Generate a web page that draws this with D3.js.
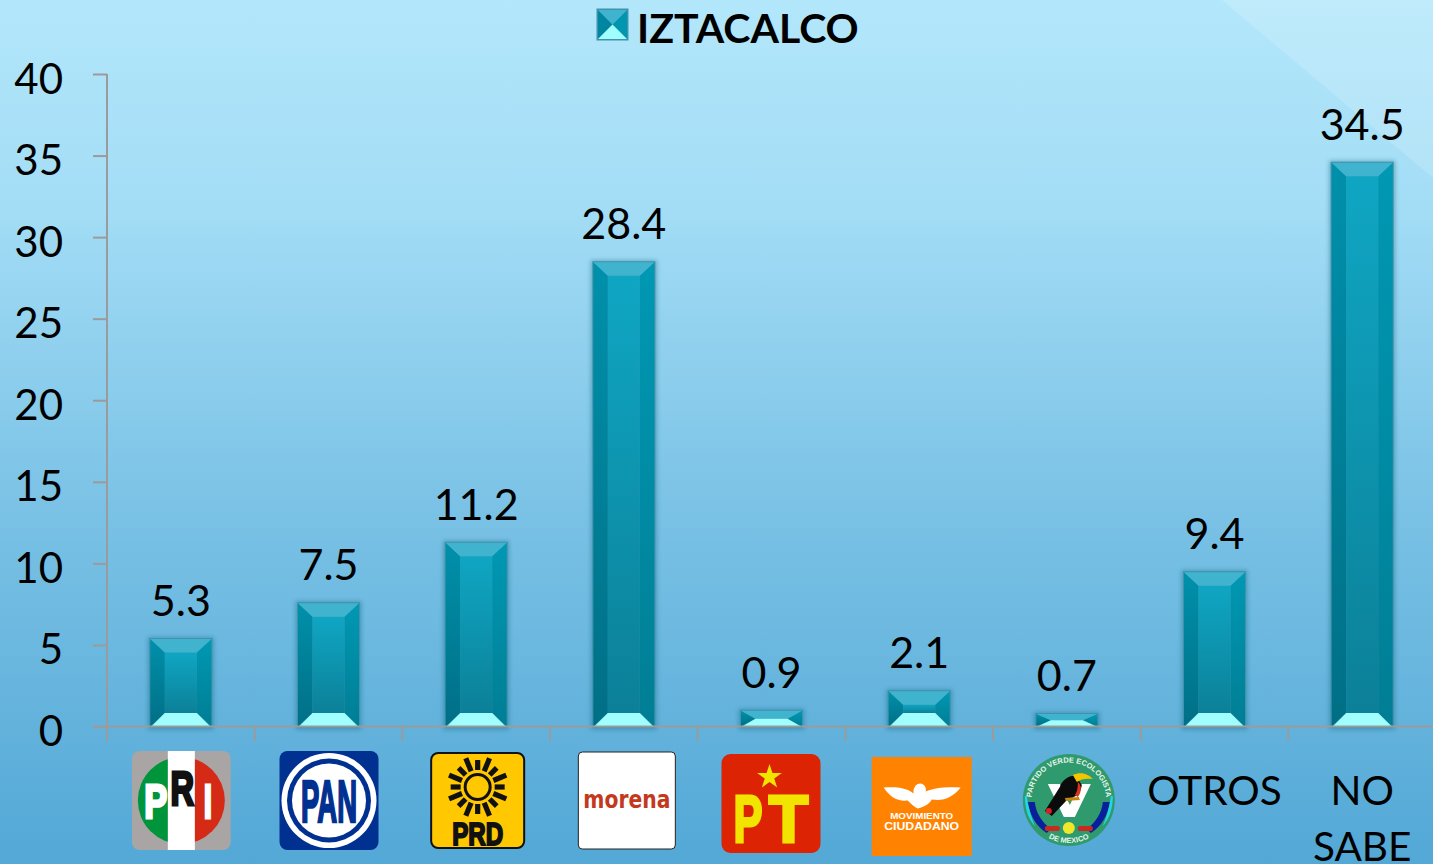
<!DOCTYPE html>
<html><head><meta charset="utf-8">
<script src="https://cdn.jsdelivr.net/npm/d3@7"></script>
<style>html,body{margin:0;padding:0;overflow:hidden}svg{display:block}</style>
</head><body><svg id="c" width="1433" height="864"></svg>
<script>
const chartTitle = "IZTACALCO";
const categories = ["PRI","PAN","PRD","morena","PT","MC","PVEM","OTROS","NO SABE"];
const values = [5.3,7.5,11.2,28.4,0.9,2.1,0.7,9.4,34.5];
const valueLabels = ["5.3","7.5","11.2","28.4","0.9","2.1","0.7","9.4","34.5"];
const yTicks = [0,5,10,15,20,25,30,35,40];
const FONT = "Lato, Carlito, sans-serif";

const svg = d3.select("#c");
const defs = svg.append("defs");
function grad(id, stops){
  const g = defs.append("linearGradient").attr("id",id).attr("x1",0).attr("y1",0).attr("x2",0).attr("y2",1);
  stops.forEach(s=>g.append("stop").attr("offset",s[0]).attr("stop-color",s[1]));
}
grad("bg",[[0,"#b3e7fb"],[0.25,"#a2dcf5"],[0.6,"#79c1e5"],[1,"#53a8d6"]]);
grad("front",[[0,"#0fa6c3"],[1,"#0c8098"]]);
grad("left",[[0,"#0090ab"],[1,"#006f86"]]);
grad("right",[[0,"#0098b3"],[1,"#007e95"]]);
const blur = defs.append("filter").attr("id","sh").attr("x","-20%").attr("y","-20%").attr("width","140%").attr("height","140%");
blur.append("feGaussianBlur").attr("stdDeviation",2);

svg.append("rect").attr("width",1433).attr("height",864).attr("fill","url(#bg)");
svg.append("path").attr("d","M1222,0 L1433,178 L1433,0 Z").attr("fill","#ffffff").attr("opacity",0.16);

const x = d3.scaleBand().domain(categories).range([107,1436]).paddingInner(0.58).paddingOuter(0.29);
const y = d3.scaleLinear().domain([0,40]).range([726.5,74]);
const step = x.step();

// axes
const axisG = svg.append("g");
const yAxis = axisG.append("g").attr("transform","translate(107,0)")
  .call(d3.axisLeft(y).tickValues(yTicks).tickSize(14).tickSizeOuter(0));
yAxis.select(".domain").remove();
yAxis.selectAll("line").attr("stroke","#9b9b9b").attr("stroke-width",2);
yAxis.selectAll("text").attr("x",-44).attr("dy",0).attr("dominant-baseline","auto")
  .attr("y",19).attr("font-family",FONT).attr("font-size",42).attr("fill","#000");
axisG.append("line").attr("x1",107).attr("x2",107).attr("y1",y(40)).attr("y2",741).attr("stroke","#9b9b9b").attr("stroke-width",2);

// bars
function bar(g, bx, top, w, bot){
  const h = bot-top, bv = Math.min(13.5,h/2), bx2 = Math.min(15,w/2);
  const L=bx,R=bx+w,T=top,B=bot,iL=L+bx2,iR=R-bx2,iT=T+bv,iB=B-bv;
  g.append("rect").attr("x",L-2).attr("y",T-2).attr("width",w+4).attr("height",h+5).attr("fill","#1c6f8a").attr("opacity",0.45).attr("filter","url(#sh)");
  g.append("rect").attr("x",L-0.5).attr("y",T-1).attr("width",w+1).attr("height",h+2.5).attr("fill","#3f93ad");
  const p=(pts,fill)=>g.append("polygon").attr("points",pts.map(d=>d.join(",")).join(" ")).attr("fill",fill);
  const a=L+0.5,b=R-0.5,c=T,d=B;
  p([[a,c],[iL,iT],[iL,iB],[a,d]],"url(#left)");
  p([[b,c],[iR,iT],[iR,iB],[b,d]],"url(#right)");
  if(iB>iT) g.append("rect").attr("x",iL).attr("y",iT).attr("width",iR-iL).attr("height",iB-iT).attr("fill","url(#front)");
  p([[a,c],[b,c],[iR,iT],[iL,iT]],"#40b4cf");
  p([[a+1,d],[b-1,d],[iR,iB],[iL,iB]],"#a0feff");
}
const barsG = svg.append("g");
categories.forEach((c,i)=>{
  bar(barsG.append("g"), x(c), y(values[i])-1, x.bandwidth(), y(0));
});

// baseline and category ticks over bars
axisG.raise();
svg.append("line").attr("x1",93).attr("x2",1433).attr("y1",y(0)).attr("y2",y(0)).attr("stroke","#9b9b9b").attr("stroke-width",2);
const xTickG = svg.append("g");
categories.slice(1).forEach(c=>{
  const tx = x(c)-(step-x.bandwidth())/2;
  xTickG.append("line").attr("x1",tx).attr("x2",tx).attr("y1",y(0)).attr("y2",741).attr("stroke","#9b9b9b").attr("stroke-width",2);
});

// value labels
svg.append("g").selectAll("text").data(categories).join("text")
  .attr("x",c=>x(c)+x.bandwidth()/2)
  .attr("y",(c,i)=>y(values[i])-24)
  .attr("text-anchor","middle").attr("font-family",FONT).attr("font-size",43).attr("fill","#000")
  .text((c,i)=>valueLabels[i]);

// title + legend key
const key = svg.append("g");
(function(){
  const L=597,R=628,T=9,B=40,mx=612.5,my=24.5;
  key.append("rect").attr("x",L-0.5).attr("y",T-0.5).attr("width",R-L+1).attr("height",B-T+1).attr("fill","#3f93ad");
  const p=(pts,f)=>key.append("polygon").attr("points",pts.map(d=>d.join(",")).join(" ")).attr("fill",f);
  p([[L+1,T+1],[mx,my],[L+1,B-1]],"#0086a0");
  p([[R-1,T+1],[mx,my],[R-1,B-1]],"#0096b0");
  p([[L+1,T+1],[R-1,T+1],[mx,my]],"#40b4cf");
  p([[L+1,B-1],[R-1,B-1],[mx,my]],"#a0feff");
})();
svg.append("text").attr("x",637).attr("y",43).attr("font-family",FONT).attr("font-weight",700)
  .attr("font-size",41).attr("fill","#000").text(chartTitle);

// text categories
const lab = (t,cx,yy)=>svg.append("text").attr("x",cx).attr("y",yy).attr("text-anchor","middle").attr("font-family",FONT).attr("font-size",40.5).attr("fill","#000").text(t);
lab("OTROS", x("OTROS")+x.bandwidth()/2, 805);
const ns = categories[8].split(" ");
lab(ns[0], x("NO SABE")+x.bandwidth()/2, 805);
lab(ns[1], x("NO SABE")+x.bandwidth()/2, 861);

// logos
const NARROW = "'Liberation Sans Narrow','Liberation Sans',sans-serif";
const SANS = "'Liberation Sans',sans-serif";
function logo(c, dx, cy){ return svg.append("g").attr("transform",`translate(${x(c)+x.bandwidth()/2+dx},${cy})`); }
function t(g,s,xx,yy,size,fill,opt={}){
  const el = g.append("text").attr("text-anchor","middle")
    .attr("font-family",opt.font||NARROW).attr("font-weight",opt.weight||700).attr("font-size",size).attr("fill",fill)
    .attr("stroke",opt.sw?fill:null).attr("stroke-width",opt.sw||null).text(s);
  if(opt.sx) el.attr("transform",`translate(${xx},${yy}) scale(${opt.sx},1)`);
  else el.attr("x",xx).attr("y",yy).attr("textLength",opt.len||null).attr("lengthAdjust",opt.len?"spacingAndGlyphs":null);
  return el;
}
// PRI
(function(){
  const g=logo("PRI",0.5,800.5);
  const id="priClip"; defs.append("clipPath").attr("id",id).append("rect").attr("x",-49.5).attr("y",-49.5).attr("width",99).attr("height",99).attr("rx",8);
  const h=g.append("g").attr("clip-path",`url(#${id})`);
  h.append("rect").attr("x",-49.5).attr("y",-49.5).attr("width",99).attr("height",99).attr("fill","#a9a5a5");
  h.append("path").attr("d","M0,-43.5 A43.5,43.5 0 0 0 0,43.5 Z").attr("fill","#00953b");
  h.append("path").attr("d","M0,-43.5 A43.5,43.5 0 0 1 0,43.5 Z").attr("fill","#d52b16");
  h.append("rect").attr("x",-13.5).attr("y",-49.5).attr("width",27).attr("height",99).attr("fill","#fff");
  t(g,"P",-25.5,17.5,48,"#fff",{sx:0.72,sw:3});
  t(g,"R",1,4.5,48,"#111",{sx:0.68,sw:3});
  t(g,"I",26.5,17.5,48,"#fff",{sx:0.62,sw:3});
})();
// PAN
(function(){
  const g=logo("PAN",0.5,800.5);
  g.append("rect").attr("x",-49.5).attr("y",-49.5).attr("width",99).attr("height",99).attr("rx",8).attr("fill","#003090");
  g.append("circle").attr("r",47.5).attr("fill","#fff");
  g.append("circle").attr("r",42).attr("fill","#003090");
  g.append("circle").attr("r",37).attr("fill","#fff");
  t(g,"PAN",0,21,60,"#003090",{len:56,sw:2.5});
})();
// PRD
(function(){
  const g=logo("PRD",1.5,800.5);
  g.append("rect").attr("x",-46.5).attr("y",-47.5).attr("width",93).attr("height",95).attr("rx",7).attr("fill","#ffc800").attr("stroke","#111").attr("stroke-width",2);
  const s=g.append("g").attr("transform","translate(0,-13.5)");
  s.append("circle").attr("r",12.5).attr("fill","none").attr("stroke","#111").attr("stroke-width",3);
  d3.range(16).forEach(k=>{
    const long = k%2===1;
    s.append("rect").attr("x",-2.6).attr("y",long?-31:-27).attr("width",5.2).attr("height",long?14:10)
      .attr("fill","#111").attr("transform",`rotate(${k*22.5})`);
  });
  t(g,"PRD",0,44,32,"#111",{len:51,sw:2});
})();
// morena
(function(){
  const g=logo("morena",3,800.5);
  g.append("rect").attr("x",-48.5).attr("y",-48.5).attr("width",97).attr("height",97).attr("rx",4).attr("fill","#fff").attr("stroke","#222").attr("stroke-width",1);
  t(g,"morena",0,7.5,24,"#c4391d",{font:"'DejaVu Sans',sans-serif",len:87});
})();
// PT
(function(){
  const g=logo("PT",-0.5,803.5);
  g.append("rect").attr("x",-49.5).attr("y",-49.5).attr("width",99).attr("height",99).attr("rx",9).attr("fill","#dc2304");
  const star=d3.range(10).map(k=>{const r=k%2?5:13,a=k*Math.PI/5;return [r*Math.sin(a),-r*Math.cos(a)].join(",");}).join(" ");
  g.append("polygon").attr("points",star).attr("transform","translate(-1.5,-26.5)").attr("fill","#f0e400");
  t(g,"P",-23,38.5,66,"#f0e400",{font:SANS,sx:0.66,sw:3});
  t(g,"T",17.5,38.5,66,"#f0e400",{font:SANS,sx:0.98,sw:3});
})();
// MC
(function(){
  const g=logo("MC",2.5,806.5);
  g.append("rect").attr("x",-50).attr("y",-49.5).attr("width",100).attr("height",99).attr("fill","#ff8300");
  g.append("path").attr("d","M-38,-19 C-26,-20 -15,-19 -8,-13 C-9,-18 -6,-23 -1,-23 C3,-22 5,-19 4,-15 C12,-19 26,-20 39,-19 C31,-9 22,-5 10,-7 C8,-3 4,0 -4,2 C-9,-1 -11,-3 -14,-6 C-25,-5 -32,-10 -38,-19 Z").attr("fill","#fff");
  t(g,"MOVIMIENTO",0,12.2,8.5,"#fff",{font:SANS,len:63});
  t(g,"CIUDADANO",0,23.5,11,"#fff",{font:SANS,len:75});
})();
// PVEM
(function(){
  const g=logo("PVEM",2,800);
  g.append("circle").attr("r",46).attr("fill","#2f9a6e");
  defs.append("path").attr("id","arcTop").attr("d","M-36,10 A37.4,37.4 0 1 1 36,10");
  defs.append("path").attr("id","arcBot").attr("d","M-22,37 A43,43 0 0 0 22,37");
  const arcText=(href,s,fs)=>g.append("text").attr("font-family",SANS).attr("font-size",fs).attr("font-weight",700).attr("fill","#e8f5ea")
    .append("textPath").attr("href",href).attr("startOffset","50%").attr("text-anchor","middle").text(s);
  arcText("#arcTop","PARTIDO VERDE ECOLOGISTA",7.5);
  arcText("#arcBot","DE MEXICO",7.5);
  g.append("path").attr("d","M-41,2 C-39,16 -32,27 -22,33 L-18,29 C-27,22 -33,13 -34,2 Z").attr("fill","#0a1f9c");
  g.append("path").attr("d","M41,2 C39,16 32,27 22,33 L18,29 C27,22 33,13 34,2 Z").attr("fill","#0a1f9c");
  g.append("path").attr("d","M-44,-4 C-44,8 -41,18 -34,26 C-38,16 -41,6 -42,-4 Z").attr("fill","#22d6e8");
  g.append("path").attr("d","M44,-4 C44,8 41,18 34,26 C38,16 41,6 42,-4 Z").attr("fill","#22d6e8");
  g.append("path").attr("d","M-21,-16 L-9,-16 L1,5 L11,-16 L22,-16 L6,17 L-5,17 Z").attr("fill","#fff");
  g.append("path").attr("d","M-24,11 L-9,-13 C-6,-21 1,-25 7,-24 L13,-15 C12,-7 7,-2 0,-2 L-17,16 Z").attr("fill","#0b0b0b");
  g.append("path").attr("d","M4,-25 C12,-29 20,-26 24,-21 C17,-22 12,-21 8,-18 Z").attr("fill","#f5c400");
  g.append("path").attr("d","M9,-18 C13,-15 13,-8 9,-3 L6,-5 C9,-9 9,-14 9,-18 Z").attr("fill","#d8351c");
  g.append("path").attr("d","M-4,-2 L10,-3 L11,0 L-3,1 Z").attr("fill","#c8860a");
  g.append("circle").attr("cx",-20).attr("cy",11).attr("r",3).attr("fill","#d8202a");
  g.append("circle").attr("cy",28).attr("r",6).attr("fill","#f0e62a");
  g.append("rect").attr("x",-24).attr("y",26).attr("width",15).attr("height",5).attr("rx",2).attr("fill","#c92a20");
  g.append("rect").attr("x",9).attr("y",26).attr("width",15).attr("height",5).attr("rx",2).attr("fill","#c92a20");
})();
</script></body></html>
